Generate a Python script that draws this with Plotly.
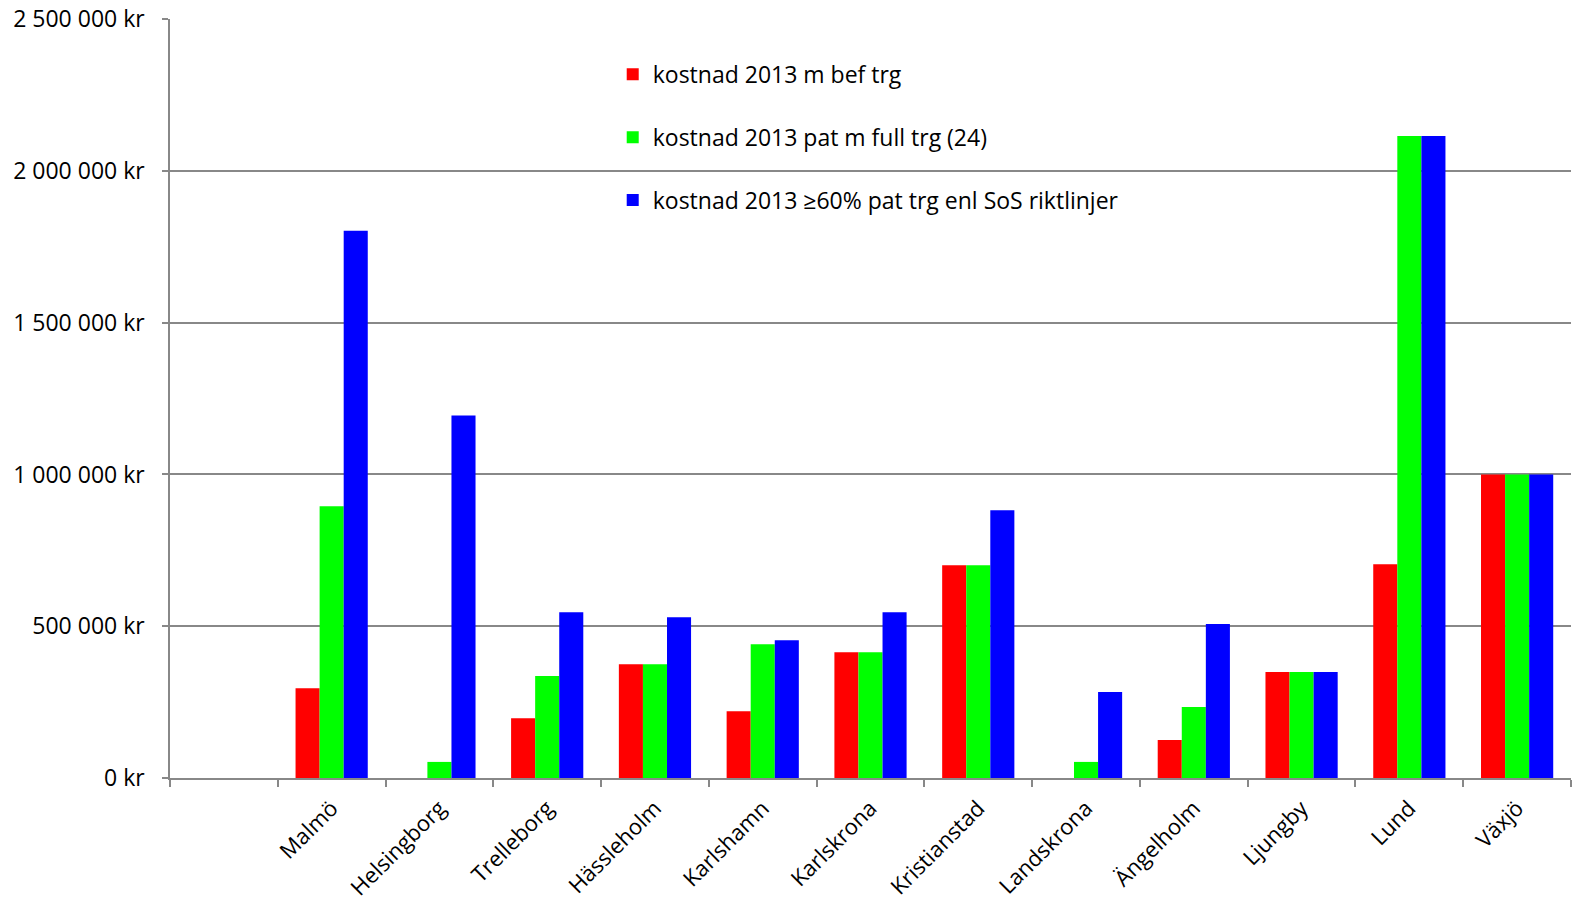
import plotly.graph_objects as go

categories = [" ", "Malmö", "Helsingborg", "Trelleborg", "Hässleholm", "Karlshamn",
              "Karlskrona", "Kristianstad", "Landskrona", "Ängelholm", "Ljungby", "Lund", "Växjö"]

series_names = ["kostnad 2013 m bef trg",
                "kostnad 2013 pat m full trg (24)",
                "kostnad 2013 ≥60% pat trg enl SoS riktlinjer"]

red_vals = [None, 296000, 0, 197000, 375000, 220000, 414000, 701000, 0, 125000, 349000, 704000, 1000000]
green_vals = [None, 895000, 53000, 336000, 375000, 441000, 414000, 701000, 53000, 234000, 349000, 2115000, 1000000]
blue_vals = [None, 1803000, 1194000, 546000, 530000, 454000, 546000, 882000, 283000, 507000, 349000, 2115000, 1000000]

colors = ["#FF0000", "#00FF00", "#0000FF"]
y_ticks = [0, 500000, 1000000, 1500000, 2000000, 2500000]
y_ticktext = [f"{v:,}".replace(",", " ") + " kr" for v in y_ticks]

fig = go.Figure()
for i, (name, vals) in enumerate(zip(series_names, [red_vals, green_vals, blue_vals])):
    fig.add_trace(go.Bar(x=categories, y=vals, name=name, marker_color=colors[i],
                         marker_line_width=0, legendgroup=f"g{i}"))

font_family = "Open Sans, Lato, DejaVu Sans, sans-serif"
fig.update_layout(
    width=1575, height=912,
    margin=dict(l=170, r=4, t=19, b=134),
    paper_bgcolor="white", plot_bgcolor="white",
    barmode="group", bargap=0.33, bargroupgap=0,
    font=dict(family=font_family, size=22, color="black"),
    legend=dict(x=0.316, y=0.9554, xanchor="left", yanchor="top",
                font=dict(size=23), tracegroupgap=30, traceorder="grouped",
                bgcolor="rgba(0,0,0,0)", itemwidth=30),
    showlegend=True,
)
fig.update_xaxes(type="category", categoryorder="array", categoryarray=categories,
                 tickson="boundaries", ticks="outside", ticklen=7, tickcolor="#888888", tickwidth=1.5,
                 showline=True, linecolor="#888888", linewidth=1.5, showgrid=False,
                 tickangle=-45, tickfont=dict(size=22), automargin=False, ticklabelstandoff=7)
fig.update_yaxes(range=[0, 2500600], tickvals=y_ticks, ticktext=y_ticktext,
                 showgrid=True, gridcolor="#888888", gridwidth=1.5,
                 showline=True, linecolor="#888888", linewidth=1.5,
                 ticks="outside", ticklen=6, tickcolor="#888888", tickwidth=1.5,
                 zeroline=False, tickfont=dict(size=23), automargin=False, ticklabelstandoff=13,
                 ticklabeloverflow="allow")

fig.write_html("out.html", config={"displayModeBar": False},
               post_script="document.body.style.margin='0';")
